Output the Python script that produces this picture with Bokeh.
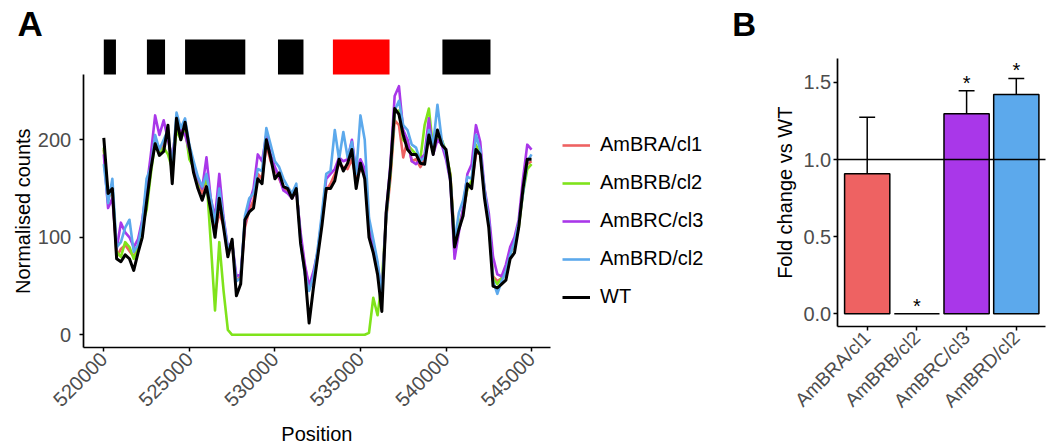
from math import pi
from bokeh.plotting import figure
from bokeh.models import (Range1d, FixedTicker, BasicTickFormatter, PrintfTickFormatter,
                          Legend, LegendItem, LinearAxis)
from bokeh.core.properties import value
from bokeh.embed import file_html
from bokeh.resources import INLINE

FONT = "Liberation Sans"
TICK_COL = "#4D4D4D"

# ---------------- Panel A data ----------------
positions = list(range(520000, 545001, 250))

wt = [202, 145, 150, 78, 75, 82, 78, 66, 84, 100,
      136, 170, 196, 184, 188, 215, 155, 222, 200, 218,
      192, 166, 150, 138, 152, 128, 100, 140, 110, 80,
      98, 40, 52, 118, 126, 130, 160, 155, 200, 182,
      160, 166, 152, 150, 140, 150, 94, 65, 12, 48,
      80, 112, 150, 150, 158, 180, 168, 176, 190, 150,
      176, 160, 100, 84, 62, 24, 125, 170, 232, 226,
      205, 190, 185, 185, 176, 175, 205, 185, 210, 195,
      190, 160, 90, 108, 122, 155, 150, 190, 185, 140,
      110, 50, 48, 52, 56, 78, 84, 110, 150, 180, 180]

ambra = [190, 140, 148, 80, 88, 92, 86, 80, 92, 108,
         140, 175, 200, 190, 195, 205, 175, 215, 205, 210,
         185, 170, 160, 145, 160, 135, 105, 125, 112, 85,
         92, 55, 60, 110, 128, 138, 165, 160, 195, 178,
         170, 160, 150, 148, 145, 152, 100, 70, 48, 55,
         85, 118, 148, 155, 165, 175, 172, 170, 180, 160,
         170, 165, 110, 90, 68, 40, 118, 160, 220, 215,
         182, 200, 178, 180, 172, 180, 200, 190, 205, 200,
         185, 165, 100, 110, 125, 150, 155, 185, 188, 145,
         118, 60, 55, 58, 62, 85, 90, 112, 148, 175, 178]

ambrb = [192, 142, 152, 85, 80, 95, 90, 78, 88, 112,
         128, 165, 198, 185, 192, 185, 170, 210, 200, 212,
         180, 172, 155, 150, 162, 95, 25, 95, 45, 5,
         0, 0, 0, 0, 0, 0, 0, 0, 0, 0,
         0, 0, 0, 0, 0, 0, 0, 0, 0, 0,
         0, 0, 0, 0, 0, 0, 0, 0, 0, 0,
         0, 0, 2, 38, 20, 55, 120, 165, 228, 230,
         200, 195, 190, 185, 180, 215, 232, 190, 205, 200,
         188, 165, 95, 112, 128, 150, 158, 195, 185, 150,
         115, 58, 52, 58, 64, 82, 96, 110, 145, 170, 175]

ambrc = [185, 130, 140, 88, 115, 105, 100, 90, 98, 118,
         150, 185, 225, 205, 220, 200, 180, 218, 210, 205,
         190, 175, 160, 150, 182, 140, 120, 165, 120, 90,
         95, 60, 62, 115, 135, 150, 185, 178, 205, 185,
         172, 162, 148, 145, 140, 148, 105, 72, 50, 65,
         85, 120, 160, 165, 170, 182, 178, 180, 200, 168,
         180, 170, 108, 92, 72, 42, 125, 175, 245, 255,
         210, 200, 178, 175, 180, 185, 222, 185, 200, 195,
         180, 158, 78, 105, 130, 165, 175, 215, 198, 150,
         125, 80, 62, 60, 72, 90, 100, 118, 160, 195, 190]

ambrd = [175, 135, 160, 90, 95, 110, 118, 85, 92, 115,
         160, 172, 205, 190, 200, 210, 170, 228, 212, 222,
         195, 178, 162, 152, 165, 140, 115, 150, 118, 88,
         95, 55, 58, 122, 140, 145, 170, 168, 212, 195,
         178, 172, 160, 152, 145, 155, 95, 62, 45, 60,
         88, 125, 165, 168, 210, 180, 208, 182, 198, 165,
         225, 200, 120, 98, 75, 40, 120, 170, 230, 240,
         215, 210, 195, 192, 178, 182, 210, 195, 236, 200,
         185, 160, 95, 125, 138, 162, 160, 205, 190, 148,
         118, 55, 42, 55, 65, 82, 95, 115, 145, 178, 185]

series_names = ["AmBRA/cl1", "AmBRB/cl2", "AmBRC/cl3", "AmBRD/cl2", "WT"]
series_values = [ambra, ambrb, ambrc, ambrd, wt]
series_colors = ["#EE6262", "#7FE31B", "#A937E9", "#5CA9EC", "#000000"]

block_start = [520000, 522520, 524750, 530180, 533390, 539790]
block_end = [520710, 523580, 528270, 531670, 536700, 542600]
block_color = ["#000000", "#000000", "#000000", "#000000", "#FF0000", "#000000"]

x_ticks = [520000, 525000, 530000, 535000, 540000, 545000]
y_ticks = [0, 100, 200]

# ---------------- Panel B data ----------------
genotypes = ["AmBRA/cl1", "AmBRB/cl2", "AmBRC/cl3", "AmBRD/cl2"]
fold_change = [0.907, 0.0, 1.296, 1.421]
fold_err_top = [1.274, 0.0, 1.445, 1.525]
significance = ["", "*", "*", "*"]
bar_colors = ["#EE6262", "#7FE31B", "#A937E9", "#5CA9EC"]
b_ticks = [0.0, 0.5, 1.0, 1.5]

# ---------------- canvas geometry (pixel -> data helpers) ----------------
W, H = 1049, 444
BP = 5000 / 85.55          # bp per pixel, panel A
PA_Y = 0.975               # pixels per count, panel A
PB_X = 49.7                # pixels per category, panel B
PB_Y = 154.3               # pixels per fold unit, panel B


def ax(px):
    return 520000 + (px - 103.3) * BP


def ay(py):
    return (334.3 - py) / PA_Y


def bx(px):
    return 1 + (px - 866.7) / PB_X


def by(py):
    return (313.3 - py) / PB_Y


p = figure(width=W, height=H, output_backend="svg", toolbar_location=None, title=None,
           x_axis_type=None, y_axis_type=None,
           x_range=Range1d(ax(0), ax(W)), y_range=Range1d(ay(H), ay(0)),
           min_border_left=0, min_border_right=0, min_border_top=0, min_border_bottom=0)
p.outline_line_color = None
p.extra_x_ranges = {"bx": Range1d(bx(0), bx(W))}
p.extra_y_ranges = {"by": Range1d(by(H), by(0))}


def style_axis(a, standoff):
    a.axis_line_width = 1.7
    a.axis_line_color = "black"
    a.major_tick_line_color = "black"
    a.major_tick_line_width = 1.5
    a.major_tick_out = 4
    a.major_tick_in = 0
    a.minor_tick_line_color = None
    a.major_label_text_font = FONT
    a.major_label_text_font_size = "20px"
    a.major_label_text_color = TICK_COL
    a.major_label_standoff = standoff


# ---------------- Panel A ----------------
p.quad(left=block_start, right=block_end, bottom=ay(74), top=ay(39),
       fill_color=block_color, line_color=None)

renderers = []
for name, vals, col in zip(series_names, series_values, series_colors):
    lw = 3.0 if name == "WT" else 2.6
    r = p.line(positions, vals, line_color=col, line_width=lw, line_join="round")
    renderers.append(r)

legend = Legend(items=[LegendItem(label=n, renderers=[r]) for n, r in zip(series_names, renderers)],
                location=(562, H - 311.7), orientation="vertical", glyph_width=28, glyph_height=30,
                label_height=30, spacing=8, padding=0, margin=0, label_standoff=10,
                label_text_font=FONT, label_text_font_size="20px", label_text_color="#000000",
                background_fill_alpha=0, border_line_alpha=0)
p.add_layout(legend)

ya_axis = LinearAxis(fixed_location=ax(82.7), bounds=(ay(347.3), ay(74)),
                     ticker=FixedTicker(ticks=y_ticks))
style_axis(ya_axis, 8)
p.add_layout(ya_axis, "left")

xa_axis = LinearAxis(fixed_location=ay(347.3), bounds=(ax(82.7), ax(550)),
                     ticker=FixedTicker(ticks=x_ticks),
                     formatter=BasicTickFormatter(use_scientific=False))
style_axis(xa_axis, 4)
xa_axis.major_label_orientation = pi / 4
p.add_layout(xa_axis, "below")

p.text(x=[ax(22)], y=[ay(210.7)], text=["Normalised counts"], angle=pi / 2,
       text_align="center", text_baseline="middle", text_font=value(FONT),
       text_font_size="20px", text_color="black")
p.text(x=[ax(316.4)], y=[ay(433)], text=["Position"], text_align="center",
       text_baseline="middle", text_font=value(FONT), text_font_size="20px",
       text_color="black")
p.text(x=[ax(17)], y=[ay(23)], text=["A"], text_align="left", text_baseline="middle",
       text_font=value(FONT), text_font_size="35px", text_font_style="bold",
       text_color="black")

# ---------------- Panel B ----------------
b_x = [i + 1 for i in range(len(genotypes))]

p.vbar(x=b_x, top=fold_change, bottom=0, width=0.91, fill_color=bar_colors,
       line_color="black", line_width=1.5, x_range_name="bx", y_range_name="by")

err_x = [b_x[i] for i in range(len(genotypes)) if fold_err_top[i] > fold_change[i]]
err_lo = [fold_change[i] for i in range(len(genotypes)) if fold_err_top[i] > fold_change[i]]
err_hi = [fold_err_top[i] for i in range(len(genotypes)) if fold_err_top[i] > fold_change[i]]
cap = 0.16
p.segment(x0=err_x, y0=err_lo, x1=err_x, y1=err_hi, line_color="black", line_width=1.5,
          x_range_name="bx", y_range_name="by")
p.segment(x0=[x - cap for x in err_x], y0=err_hi, x1=[x + cap for x in err_x], y1=err_hi,
          line_color="black", line_width=1.5, x_range_name="bx", y_range_name="by")

# reference line at fold change 1
p.segment(x0=[bx(836.7)], y0=[1.0], x1=[bx(1045)], y1=[1.0], line_color="black",
          line_width=1.5, x_range_name="bx", y_range_name="by")

p.text(x=b_x, y=fold_err_top, text=significance, text_align="center",
       text_baseline="alphabetic", y_offset=-8, text_font=value(FONT),
       text_font_size="20px", text_color="black", x_range_name="bx", y_range_name="by")

yb_axis = LinearAxis(x_range_name="bx", y_range_name="by", fixed_location=bx(836.7),
                     bounds=(by(326), by(58.3)), ticker=FixedTicker(ticks=b_ticks),
                     formatter=PrintfTickFormatter(format="%.1f"))
style_axis(yb_axis, 2)
p.add_layout(yb_axis, "left")

xb_axis = LinearAxis(x_range_name="bx", y_range_name="by", fixed_location=by(326),
                     bounds=(bx(836.7), bx(1045)), ticker=FixedTicker(ticks=b_x))
style_axis(xb_axis, 4)
xb_axis.major_label_text_font_size = "19px"
xb_axis.major_label_overrides = {x: g for x, g in zip(b_x, genotypes)}
xb_axis.major_label_orientation = pi / 4
p.add_layout(xb_axis, "below")

p.text(x=[bx(784)], y=[by(192.2)], text=["Fold change vs WT"], angle=pi / 2,
       text_align="center", text_baseline="middle", text_font=value(FONT),
       text_font_size="20px", text_color="black", x_range_name="bx", y_range_name="by")
p.text(x=[bx(731.7)], y=[by(24)], text=["B"], text_align="left", text_baseline="middle",
       text_font=value(FONT), text_font_size="33px", text_font_style="bold",
       text_color="black", x_range_name="bx", y_range_name="by")

open("out.html", "w").write(file_html(p, INLINE))
